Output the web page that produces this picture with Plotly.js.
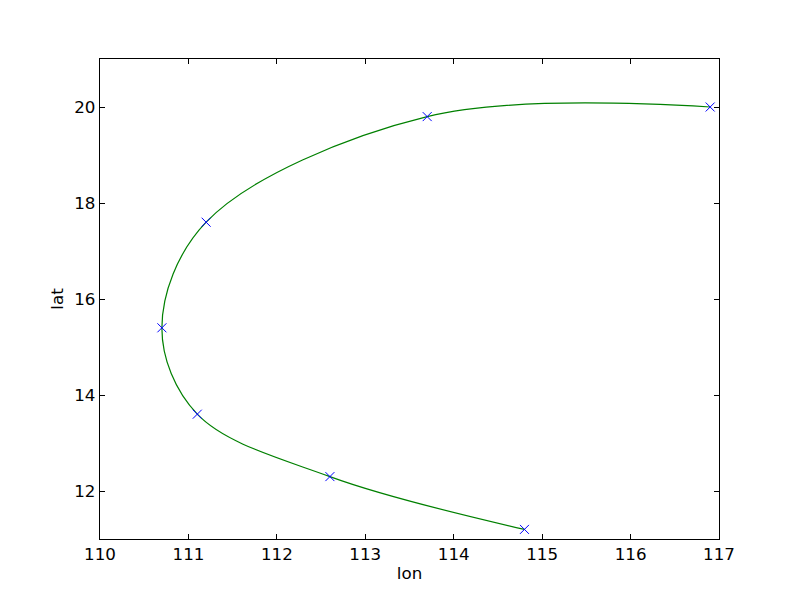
<!DOCTYPE html>
<html>
<head>
<meta charset="utf-8">
<script src="https://cdn.plot.ly/plotly-3.0.1.min.js"></script>
<style>body{margin:0;padding:0;background:#fff;} #chart{width:800px;height:600px;}</style>
</head>
<body>
<div id="chart"></div>
<script>
const lon = [114.8, 112.6, 111.1, 110.7, 111.2, 113.7, 116.9];
const lat = [11.2, 12.3, 13.6, 15.4, 17.6, 19.8, 20.0];
const xTicks = [110, 111, 112, 113, 114, 115, 116, 117];
const yTicks = [12, 14, 16, 18, 20];

const font = {family: 'DejaVu Sans', size: 16.7, color: '#000'};

const traces = [
  {
    x: lon, y: lat, mode: 'lines', type: 'scatter',
    line: {color: '#008000', width: 1.2, shape: 'spline', smoothing: 1.0},
    hoverinfo: 'skip', showlegend: false
  },
  {
    x: lon, y: lat, mode: 'markers', type: 'scatter',
    marker: {symbol: 'x-thin-open', size: 9, color: '#0000ff', line: {color: '#0000ff', width: 1}},
    showlegend: false
  }
];

const axisBase = {
  showgrid: false, zeroline: false, showline: true, linecolor: '#000', linewidth: 1.2,
  mirror: 'ticks', ticks: 'inside', ticklen: 5, tickwidth: 1, tickcolor: '#000',
  tickfont: font
};

const layout = {
  width: 800, height: 600,
  margin: {l: 100, r: 81, t: 59, b: 61},
  paper_bgcolor: '#fff', plot_bgcolor: '#fff',
  font: font,
  xaxis: Object.assign({}, axisBase, {
    range: [110, 117], tickvals: xTicks, ticktext: xTicks.map(String),
    title: {text: 'lon', font: font, standoff: 4}
  }),
  yaxis: Object.assign({}, axisBase, {
    range: [11, 21], tickvals: yTicks, ticktext: yTicks.map(String),
    title: {text: 'lat', font: font, standoff: 6}
  })
};

Plotly.newPlot('chart', traces, layout, {displayModeBar: false, staticPlot: true});
</script>
</body>
</html>
